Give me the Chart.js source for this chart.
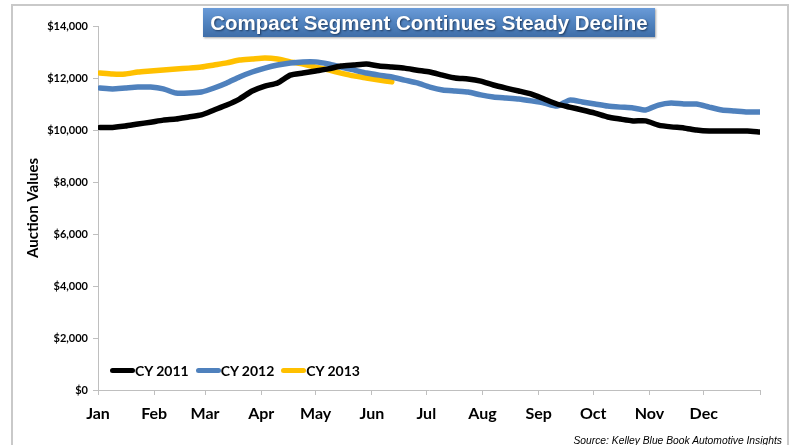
<!DOCTYPE html>
<html>
<head>
<meta charset="utf-8">
<script src="https://cdn.jsdelivr.net/npm/chart.js@4.4.1/dist/chart.umd.min.js"></script>
<style>
  html, body { margin: 0; padding: 0; background: #fff; }
  #wrap { position: relative; width: 797px; height: 445px; overflow: hidden; }
  #frame { position: absolute; left: 11px; top: 4px; width: 778px; height: 460px; border: 2px solid #c9c9c9; box-sizing: border-box; }
  #chart { position: absolute; left: 0; top: 0; }
  #title {
    position: absolute; left: 203px; top: 8px; width: 452px; height: 29px;
    background: linear-gradient(#6a9bd8, #4f81bd 55%, #3f6ea8);
    color: #fff; font: bold 20.5px "Liberation Sans", Arial, sans-serif;
    line-height: 29px; text-align: center; white-space: nowrap;
    text-shadow: 1px 1px 2px #1f3a5f;
    box-shadow: 1px 1px 2px rgba(0,0,0,0.35);
  }
  #legend { position: absolute; left: 110px; top: 362px; display: flex; align-items: center;
    font: bold 14px Lato, "Open Sans", sans-serif; color: #000; }
  .item { display: flex; align-items: center; margin-right: 7px; }
  .swatch { width: 25px; height: 5px; border-radius: 3px; }
  #source { position: absolute; right: 15px; top: 435px;
    font: italic 10.3px "Liberation Sans", Arial, sans-serif; color: #000; }
</style>
</head>
<body>
<div id="wrap">
  <div id="frame"></div>
  <canvas id="chart" width="797" height="445"></canvas>
  <div id="title">Compact Segment Continues Steady Decline</div>
  <div id="legend"></div>
  <div id="source">Source: Kelley Blue Book Automotive Insights</div>
</div>
<script>
// month boundaries (day of year) and their labels
const monthStartDays = [0, 31, 59, 90, 120, 151, 181, 212, 243, 273, 304, 334, 365];
const monthLabels = ['Jan', 'Feb', 'Mar', 'Apr', 'May', 'Jun', 'Jul', 'Aug', 'Sep', 'Oct', 'Nov', 'Dec', ''];
const yTicks = [0, 2000, 4000, 6000, 8000, 10000, 12000, 14000];

// weekly auction values
const cy2011 = [10100, 10100, 10150, 10230, 10300, 10380, 10420, 10500, 10580, 10770,
  10960, 11190, 11500, 11690, 11810, 12110, 12190, 12270, 12350, 12460,
  12500, 12540, 12460, 12420, 12380, 12300, 12230, 12110, 12000, 11960,
  11880, 11730, 11610, 11500, 11380, 11190, 11000, 10880, 10770, 10650,
  10500, 10420, 10350, 10350, 10190, 10120, 10080, 10000, 9960, 9960,
  9960, 9960, 9920];
const cy2012 = [11615, 11580, 11615, 11650, 11650, 11580, 11420, 11420, 11460, 11615,
  11810, 12040, 12230, 12380, 12500, 12580, 12620, 12620, 12540, 12420,
  12310, 12190, 12110, 12040, 11920, 11810, 11650, 11540, 11500, 11460,
  11350, 11270, 11230, 11190, 11120, 11040, 10920, 11150, 11080, 11000,
  10920, 10880, 10850, 10770, 10960, 11040, 11000, 11000, 10880, 10770,
  10730, 10690, 10690];
const cy2013 = [12190, 12150, 12150, 12230, 12270, 12310, 12350, 12380, 12420, 12500,
  12580, 12690, 12730, 12770, 12730, 12620, 12540, 12420, 12310, 12190,
  12080, 12000, 11920, 11850];

const firstDay = 1;
const weekDays = 7;
const toPoints = vals => vals.map((v, i) => ({ x: firstDay + i * weekDays, y: v }));

const series = [
  { label: 'CY 2011', data: cy2011, color: '#000000' },
  { label: 'CY 2012', data: cy2012, color: '#4f81bd' },
  { label: 'CY 2013', data: cy2013, color: '#ffc000' }
];

const axisColor = '#bfbfbf';
const tickFont = { family: 'Lato, "Open Sans", sans-serif', weight: 'bold' };

new Chart(document.getElementById('chart'), {
  type: 'line',
  data: {
    datasets: series.map(s => ({
      label: s.label,
      data: toPoints(s.data),
      borderColor: s.color,
      backgroundColor: s.color,
      borderWidth: 5.5,
      pointRadius: 0,
      tension: 0.2,
      borderCapStyle: 'round',
      borderJoinStyle: 'round'
    }))
  },
  options: {
    responsive: false,
    animation: false,
    devicePixelRatio: 1,
    layout: { padding: { left: 24, top: 26, right: 37, bottom: 0 } },
    plugins: { legend: { display: false }, tooltip: { enabled: false } },
    scales: {
      x: {
        type: 'linear',
        min: 0,
        max: 365,
        afterBuildTicks: scale => { scale.ticks = monthStartDays.map(v => ({ value: v })); },
        afterFit: scale => { scale.height = 55; },
        ticks: {
          autoSkip: false,
          maxRotation: 0,
          padding: 9,
          color: '#000',
          font: { ...tickFont, size: 16 },
          callback: (v, i) => monthLabels[i]
        },
        grid: { drawOnChartArea: false, tickLength: 5, color: axisColor },
        border: { color: axisColor }
      },
      y: {
        min: 0,
        max: 14000,
        afterBuildTicks: scale => { scale.ticks = yTicks.map(v => ({ value: v })); },
        afterFit: scale => { scale.width = 74; },
        ticks: {
          padding: 5,
          color: '#000',
          font: { ...tickFont, size: 11 },
          callback: v => '$' + v.toLocaleString('en-US')
        },
        title: {
          display: true,
          text: 'Auction Values',
          color: '#000',
          font: { ...tickFont, size: 15 },
          padding: { top: 0, bottom: 0 }
        },
        grid: { drawOnChartArea: false, tickLength: 5, color: axisColor },
        border: { color: axisColor }
      }
    }
  }
});

// legend sits inside the plot, bottom left
const legend = document.getElementById('legend');
series.forEach(s => {
  const item = document.createElement('div');
  item.className = 'item';
  item.innerHTML = `<span class="swatch" style="background:${s.color}"></span><span>${s.label}</span>`;
  legend.appendChild(item);
});
</script>
</body>
</html>
